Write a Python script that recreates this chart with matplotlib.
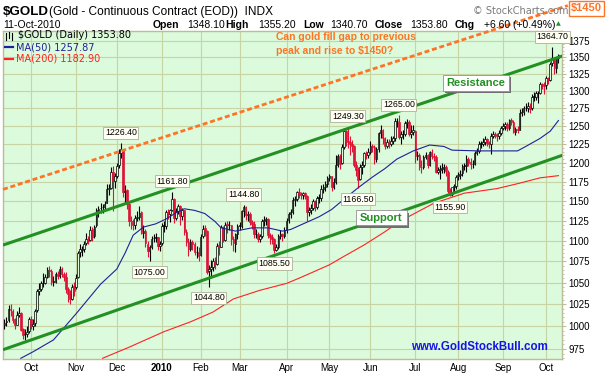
import numpy as np
import pandas as pd
import matplotlib
matplotlib.use('Agg')
import matplotlib.pyplot as plt
from matplotlib.lines import Line2D
from matplotlib.patches import Rectangle
from matplotlib.ticker import FixedLocator, FuncFormatter, NullFormatter

# trading days shown (US market holidays removed)
start_date, end_date = '2009-09-14', '2010-10-11'
holidays = ['2009-11-26', '2009-12-25', '2010-01-01', '2010-01-18', '2010-02-15',
            '2010-04-02', '2010-05-31', '2010-07-05', '2010-09-06']

# daily OHLC, one line per month
opens = [
    1002, 1005, 1007, 1020, 1017, 1008, 1002, 1013, 1015, 997, 992, 992, 995,
    1008, 1000, 1004, 1018, 1040, 1042, 1049, 1050, 1057, 1065, 1064, 1051, 1051, 1060, 1058, 1066, 1060, 1057, 1042, 1037, 1031, 1046,
    1045, 1056, 1086, 1089, 1090, 1097, 1102, 1101, 1114, 1106, 1119, 1139, 1141, 1142, 1142, 1148, 1166, 1167, 1188, 1176,
    1183, 1197, 1213, 1217, 1162, 1164, 1146, 1125, 1124, 1119, 1128, 1130, 1136, 1110, 1112, 1096, 1087, 1092, 1103, 1104, 1105, 1094,
    1097, 1119, 1118, 1136, 1133, 1139, 1152, 1128, 1137, 1143, 1131, 1138, 1111, 1099, 1090, 1098, 1096, 1086, 1086,
    1083, 1106, 1116, 1112, 1064, 1066, 1068, 1076, 1072, 1095, 1093, 1117, 1101, 1121, 1119, 1119, 1102, 1096, 1108,
    1119, 1118, 1137, 1142, 1132, 1134, 1123, 1121, 1108, 1108, 1102, 1106, 1124, 1126, 1127, 1107, 1105, 1102, 1089, 1092, 1106, 1108, 1106,
    1113, 1126, 1133, 1136, 1151, 1152, 1161, 1159, 1158, 1160, 1157, 1136, 1139, 1141, 1150, 1142, 1154, 1154, 1166, 1168, 1172,
    1180, 1182, 1168, 1175, 1197, 1209, 1200, 1221, 1243, 1230, 1228, 1225, 1222, 1197, 1190, 1178, 1195, 1197, 1213, 1211,
    1215, 1222, 1221, 1205, 1218, 1240, 1244, 1233, 1223, 1228, 1226, 1230, 1234, 1257, 1256, 1235, 1239, 1239, 1254, 1256, 1239, 1242,
    1243, 1209, 1211, 1195, 1194, 1208, 1211, 1197, 1214, 1209, 1208, 1188, 1191, 1192, 1193, 1194, 1188, 1163, 1159, 1168, 1169,
    1182, 1184, 1186, 1196, 1196, 1205, 1201, 1198, 1199, 1213, 1216, 1226, 1226, 1228, 1232, 1227, 1226, 1236, 1239, 1238, 1237, 1240,
    1248, 1250, 1253, 1247, 1258, 1256, 1242, 1246, 1245, 1268, 1270, 1275, 1276, 1278, 1275, 1292, 1292, 1297, 1297, 1310, 1309,
    1308, 1319, 1316, 1341, 1349, 1333, 1348.1,
]
highs = [
    1008, 1010, 1024, 1025, 1019, 1009, 1017, 1022, 1016, 998, 997, 1000, 1010,
    1012, 1008, 1020, 1042, 1049, 1052, 1061, 1060, 1068, 1070, 1066, 1058, 1063, 1064, 1070, 1068, 1062, 1062, 1045, 1041, 1048, 1051,
    1060, 1088, 1096, 1094, 1100, 1110, 1106, 1118, 1117, 1120, 1141, 1144, 1148, 1146, 1150, 1172, 1172, 1194, 1196, 1186,
    1200, 1218, 1226.4, 1218, 1170, 1166, 1148, 1131, 1127, 1132, 1137, 1143, 1137, 1120, 1114, 1100, 1095, 1106, 1108, 1110, 1105, 1100,
    1122, 1125, 1139, 1140, 1140, 1161.8, 1154, 1141, 1146, 1145, 1141, 1139, 1114, 1103, 1102, 1101, 1098, 1094, 1092,
    1108, 1120, 1119, 1113, 1071, 1077, 1079, 1080, 1097, 1100, 1120, 1118, 1123, 1124, 1124, 1120, 1106, 1110, 1121,
    1123, 1139, 1144.8, 1143, 1137, 1136, 1126, 1124, 1114, 1111, 1109, 1127, 1131, 1130, 1128, 1110, 1109, 1103, 1096, 1108, 1113, 1110, 1117,
    1128, 1136, 1140, 1155, 1157, 1163, 1167, 1162, 1162, 1162, 1158, 1142, 1146, 1153, 1151, 1156, 1159, 1170, 1172, 1176, 1183,
    1185, 1183, 1180, 1210, 1212, 1212, 1226, 1248, 1244, 1249.3, 1236, 1231, 1224, 1203, 1195, 1198, 1202, 1215, 1216, 1220,
    1230, 1226, 1224, 1221, 1242, 1252, 1246, 1235, 1232, 1232, 1236, 1237, 1261, 1262, 1265, 1243, 1244, 1257, 1260, 1258, 1251, 1251,
    1245, 1216, 1213, 1204, 1210, 1214, 1212, 1216, 1218, 1213, 1210, 1195, 1197, 1200, 1199, 1197, 1190, 1167, 1165, 1172, 1184,
    1188, 1190, 1198, 1200, 1210, 1208, 1206, 1204, 1216, 1220, 1229, 1230, 1233, 1236, 1233, 1230, 1240, 1243, 1242, 1240, 1244, 1250,
    1254, 1256, 1256, 1260, 1262, 1258, 1249, 1250, 1274, 1275, 1278, 1282, 1284, 1282, 1296, 1298, 1300, 1300, 1313, 1312, 1313,
    1322, 1321, 1342, 1364.7, 1349, 1350, 1355.2,
]
lows = [
    997, 1000, 1005, 1012, 1004, 997, 1001, 1010, 995, 986, 985, 988, 993,
    997, 996, 1000, 1016, 1036, 1040, 1045, 1048, 1055, 1057, 1047, 1046, 1049, 1054, 1055, 1057, 1052, 1038, 1028, 1025, 1030, 1034,
    1042, 1055, 1080, 1082, 1086, 1095, 1096, 1100, 1100, 1103, 1117, 1130, 1135, 1135, 1137, 1148, 1158, 1165, 1137, 1167,
    1180, 1193, 1207, 1155, 1148, 1140, 1118, 1115, 1113, 1115, 1125, 1126, 1108, 1104, 1093, 1080, 1075, 1090, 1098, 1098, 1089, 1088,
    1095, 1111, 1115, 1127, 1123, 1137, 1122, 1126, 1133, 1120, 1126, 1107, 1094, 1081, 1087, 1089, 1083, 1079, 1076,
    1082, 1103, 1106, 1060, 1044.8, 1058, 1064, 1066, 1071, 1083, 1092, 1099, 1100, 1110, 1113, 1095, 1088, 1086, 1102,
    1113, 1116, 1130, 1126, 1124, 1120, 1115, 1104, 1103, 1098, 1098, 1104, 1118, 1120, 1104, 1096, 1096, 1085.5, 1087, 1090, 1102, 1100, 1103,
    1110, 1122, 1128, 1133, 1144, 1150, 1154, 1152, 1152, 1153, 1124, 1131, 1134, 1138, 1137, 1140, 1148, 1150, 1160, 1163, 1168,
    1176, 1163, 1165, 1172, 1195, 1192, 1198, 1219, 1222, 1220, 1210, 1215, 1195, 1183, 1166.5, 1177, 1185, 1195, 1205, 1206,
    1212, 1214, 1199, 1201, 1214, 1233, 1226, 1218, 1220, 1220, 1222, 1226, 1230, 1249, 1232, 1226, 1232, 1236, 1248, 1236, 1233, 1238,
    1200, 1204, 1190, 1186, 1192, 1205, 1193, 1196, 1205, 1202, 1186, 1185, 1178, 1186, 1187, 1183, 1160, 1155.9, 1157, 1160, 1165,
    1177, 1178, 1182, 1190, 1188, 1196, 1192, 1193, 1197, 1210, 1213, 1220, 1222, 1224, 1222, 1220, 1212, 1233, 1233, 1230, 1232, 1238,
    1244, 1245, 1243, 1245, 1252, 1240, 1238, 1241, 1244, 1264, 1266, 1271, 1270, 1268, 1273, 1285, 1287, 1282, 1295, 1303, 1296,
    1303, 1310, 1315, 1336, 1325, 1327, 1340.7,
]
closes = [
    1004, 1006, 1020, 1018, 1007, 1002, 1013, 1015, 996, 990, 991, 994, 1008,
    1000, 1003, 1017, 1040, 1043, 1049, 1050, 1057, 1065, 1064, 1051, 1051, 1060, 1058, 1066, 1060, 1057, 1042, 1037, 1031, 1045, 1040,
    1055, 1085, 1090, 1090, 1096, 1102, 1100, 1113, 1105, 1117, 1138, 1140, 1141, 1142, 1146, 1166, 1167, 1188, 1176, 1182,
    1196, 1213, 1218, 1161, 1163, 1146, 1125, 1124, 1119, 1128, 1130, 1135, 1110, 1112, 1097, 1087, 1092, 1102, 1104, 1104, 1094, 1096,
    1118, 1118, 1136, 1133, 1138, 1152, 1128, 1137, 1143, 1131, 1138, 1111, 1099, 1090, 1098, 1096, 1086, 1086, 1081,
    1105, 1115, 1112, 1063, 1066, 1068, 1075, 1072, 1094, 1092, 1117, 1101, 1120, 1119, 1119, 1102, 1097, 1108, 1118,
    1118, 1137, 1142, 1132, 1134, 1123, 1121, 1108, 1108, 1102, 1106, 1124, 1126, 1127, 1107, 1105, 1102, 1089, 1092, 1106, 1108, 1106, 1113,
    1125, 1133, 1136, 1151, 1152, 1161, 1159, 1158, 1160, 1157, 1136, 1139, 1141, 1150, 1142, 1154, 1154, 1166, 1168, 1172, 1180,
    1182, 1168, 1175, 1197, 1209, 1199, 1221, 1243, 1229, 1228, 1225, 1222, 1197, 1190, 1177, 1195, 1197, 1213, 1211, 1215,
    1222, 1221, 1205, 1218, 1240, 1244, 1233, 1223, 1228, 1226, 1230, 1233, 1257, 1257, 1235, 1239, 1239, 1254, 1256, 1239, 1242, 1244,
    1209, 1211, 1195, 1194, 1208, 1211, 1197, 1214, 1209, 1208, 1188, 1191, 1192, 1193, 1194, 1189, 1163, 1158, 1168, 1169, 1181,
    1184, 1185, 1196, 1196, 1205, 1200, 1198, 1198, 1213, 1216, 1226, 1226, 1228, 1232, 1227, 1226, 1236, 1239, 1238, 1237, 1240, 1248,
    1250, 1253, 1247, 1258, 1256, 1242, 1246, 1245, 1268, 1270, 1275, 1276, 1278, 1274, 1292, 1292, 1297, 1297, 1310, 1309, 1307,
    1319, 1316, 1340, 1349, 1333, 1347.2, 1353.8,
]

# moving averages
ma50_dates = ['2009-09-24', '2009-10-02', '2009-10-16', '2009-11-02', '2009-11-18', '2009-12-01',
              '2009-12-07', '2009-12-11', '2009-12-18', '2009-12-29', '2010-01-06', '2010-01-13',
              '2010-01-20', '2010-01-27', '2010-02-03', '2010-02-10', '2010-02-16', '2010-02-25',
              '2010-03-09', '2010-03-19', '2010-03-30', '2010-04-06', '2010-04-15', '2010-04-26',
              '2010-05-04', '2010-05-12', '2010-05-21', '2010-06-02', '2010-06-10', '2010-06-18',
              '2010-06-30', '2010-07-13', '2010-07-22', '2010-07-28', '2010-08-16', '2010-09-13',
              '2010-09-17', '2010-09-28', '2010-10-05', '2010-10-11']
ma50_vals = [965, 972, 985, 1014, 1048, 1066, 1085, 1107, 1117, 1121, 1127, 1135, 1140, 1138,
             1134, 1124, 1116, 1112, 1116, 1116, 1112, 1114, 1122, 1130, 1139, 1152, 1167, 1181,
             1192, 1205, 1216, 1224, 1222, 1217, 1216, 1216, 1222, 1233, 1243, 1257.87]
ma200_dates = ['2009-11-19', '2009-12-09', '2010-01-05', '2010-01-25', '2010-02-09', '2010-02-24',
               '2010-03-15', '2010-04-01', '2010-04-13', '2010-05-03', '2010-05-12', '2010-05-26',
               '2010-06-10', '2010-06-22', '2010-07-15', '2010-08-05', '2010-08-27', '2010-09-14',
               '2010-09-28', '2010-10-11']
ma200_vals = [965, 977, 994, 1005, 1016, 1031, 1041, 1049, 1056, 1071, 1081, 1095, 1111, 1125,
              1147, 1160, 1166, 1173, 1180, 1182.90]

# hand drawn channel lines (two anchors each)
line_dates = ['2009-09-14', '2010-10-11']
resistance_vals = [1095.4, 1349.7]
support_vals = [974.8, 1208.2]
target_vals = [1165.5, 1425.0]

peak_dates = ['2009-12-03', '2010-01-11', '2010-03-03', '2010-05-14', '2010-06-21', '2010-10-06']
peak_vals = [1226.40, 1161.80, 1144.80, 1249.30, 1265.00, 1364.70]
trough_dates = ['2009-12-23', '2010-02-05', '2010-03-24', '2010-05-21', '2010-07-27']
trough_vals = [1075.00, 1044.80, 1085.50, 1166.50, 1155.90]

y_ticks = list(range(975, 1376, 25))
month_labels = ['Oct', 'Nov', 'Dec', '2010', 'Feb', 'Mar', 'Apr', 'May', 'Jun', 'Jul', 'Aug', 'Sep', 'Oct']

BG = '#dcfadc'
GRID = '#c8d4a4'
FRAME = '#bcbc98'
RED = '#dc1438'
GREEN = '#229022'
ORANGE = '#ff7424'
NAVY = '#20209a'
MARED = '#ff2222'
FONT = 'Liberation Sans'

W, H = 606, 373


def fx(x):
    return x / W


def fy(y):
    return 1 - y / H


dates = pd.bdate_range(start_date, end_date)
dates = dates[~dates.isin(pd.to_datetime(holidays))]
assert len(dates) == len(opens) == len(highs) == len(lows) == len(closes)


def pos(d):
    return dates.get_loc(pd.Timestamp(d))


o = np.array(opens, float)
h = np.array(highs, float)
l = np.array(lows, float)
c = np.array(closes, float)
x = np.arange(len(dates))

fig = plt.figure(figsize=(W / 100, H / 100), dpi=100)
fig.patch.set_facecolor('white')
ax = fig.add_axes([fx(3), fy(359.3), (562.3 - 3) / W, (359.3 - 31) / H])
ax.set_facecolor(BG)
ax.set_yscale('log')
ax.set_xlim(-0.7, 272.9)
ax.set_ylim(963.9, 1389.9)

# candles: black/red by close vs previous close, hollow when close > open
prev = np.r_[c[0], c[:-1]]
col = np.where(c >= prev, 'black', RED)
face = np.where(c > o, BG, col)
ax.vlines(x, l, h, colors=col, lw=0.8, zorder=3)
ax.bar(x, np.maximum(np.abs(c - o), 0.6), bottom=np.minimum(o, c), width=0.8,
       color=face, edgecolor=col, linewidth=0.5, zorder=3)

# moving averages
ax.plot([pos(d) for d in ma50_dates], ma50_vals, color=NAVY, lw=0.8, zorder=4)
ax.plot([pos(d) for d in ma200_dates], ma200_vals, color=MARED, lw=0.8, zorder=4)


def trend(vals, x0, x1):
    i0, i1 = pos(line_dates[0]), pos(line_dates[1])
    k = (np.log(vals[1]) - np.log(vals[0])) / (i1 - i0)
    xs = np.array([x0, x1])
    return xs, np.exp(np.log(vals[0]) + k * (xs - i0))


xl = ax.get_xlim()
xs, ys = trend(resistance_vals, *xl)
ax.plot(xs, ys, color=GREEN, lw=2.2, zorder=5, solid_capstyle='butt')
xs, ys = trend(support_vals, *xl)
ax.plot(xs, ys, color=GREEN, lw=2.2, zorder=5, solid_capstyle='butt')
xs, ys = trend(target_vals, xl[0], 275.6)
ax.plot(xs, ys, color=ORANGE, lw=2.0, ls=(0, (1.8, 1.0)), zorder=5, clip_on=False)

# price labels on peaks and troughs
box = dict(boxstyle='square,pad=0.18', fc='#fffff4', ec='#b0b098', lw=0.6)
for d, v in zip(peak_dates, peak_vals):
    ax.annotate(f'{v:.2f}', xy=(pos(d), v), xytext=(0, 7.6), textcoords='offset points',
                ha='center', va='center', fontsize=6.3, family=FONT, bbox=box,
                zorder=7, annotation_clip=False)
for d, v in zip(trough_dates, trough_vals):
    ax.annotate(f'{v:.2f}', xy=(pos(d), v), xytext=(0, -7.8), textcoords='offset points',
                ha='center', va='center', fontsize=6.3, family=FONT, bbox=box,
                zorder=7, annotation_clip=False)

# axes, ticks, grid
month_pos = [np.argmax((dates.year == y) & (dates.month == m))
             for y, m in [(2009, 10), (2009, 11), (2009, 12)] + [(2010, m) for m in range(1, 11)]]
ax.set_xticks(month_pos)
ax.set_xticklabels(month_labels, family=FONT, fontsize=7)
ax.get_xticklabels()[3].set_fontweight('bold')
ax.yaxis.set_major_locator(FixedLocator(y_ticks))
ax.yaxis.set_major_formatter(FuncFormatter(lambda v, p: f'{v:.0f}'))
ax.yaxis.set_minor_locator(FixedLocator([v for v in range(965, 1390, 5) if v not in y_ticks]))
ax.yaxis.set_minor_formatter(NullFormatter())
ax.yaxis.tick_right()
ax.tick_params(axis='y', which='major', length=3, width=0.8, color=FRAME, pad=1.5,
               labelsize=7)
ax.tick_params(axis='y', which='minor', length=1.5, width=0.6, color=FRAME)
ax.tick_params(axis='x', length=0, pad=3)
for t in ax.get_yticklabels():
    t.set_family(FONT)
ax.grid(True, which='major', color=GRID, lw=0.8, zorder=0)
ax.set_axisbelow(True)
for s in ax.spines.values():
    s.set_color(FRAME)
    s.set_linewidth(1.0)

# header
fig.text(fx(2.5), fy(15), r'\$GOLD', family=FONT, fontsize=9.6, weight='bold', va='baseline')
fig.text(fx(49), fy(15), '(Gold - Continuous Contract (EOD))  INDX', family=FONT, fontsize=8.6,
         va='baseline')
fig.text(fx(3), fy(27.5), '11-Oct-2010', family=FONT, fontsize=7.5, va='baseline')
chg = c[-1] - c[-2]
header = [(153, 'Open', True), (187, f'{o[-1]:.2f}', False),
          (225, 'High', True), (258, f'{h[-1]:.2f}', False),
          (303, 'Low', True), (330, f'{l[-1]:.2f}', False),
          (375, 'Close', True), (410, f'{c[-1]:.2f}', False),
          (455, 'Chg', True), (484, f'+{chg:.2f} (+{chg / c[-2] * 100:.2f}%)', False)]
for hx, txt, bold in header:
    fig.text(fx(hx), fy(27.5), txt, family=FONT, fontsize=7.5, va='baseline',
             weight='bold' if bold else 'normal')
fig.text(fx(558), fy(24), '\u25b2', fontsize=4.5, color=GREEN, ha='center', va='center')
fig.text(fx(473), fy(13.5), '\u00a9 StockCharts.com', family='DejaVu Sans', fontsize=7,
         color='#7a7a7a', va='baseline')
fig.text(fx(586.5), fy(8.5), r'\$1450', family=FONT, fontsize=8, weight='bold', color=ORANGE,
         ha='center', va='center',
         bbox=dict(boxstyle='square,pad=0.2', fc='white', ec=ORANGE, lw=1.0))

# legend
for lx, ly0, ly1 in ((6, 33, 39.5), (9, 31.5, 38), (12, 33, 40)):
    fig.add_artist(Line2D([fx(lx), fx(lx)], [fy(ly0), fy(ly1)], color='black', lw=0.8))
fig.text(fx(18), fy(35.5), r'\$GOLD (Daily) ' + f'{c[-1]:.2f}', family='DejaVu Sans',
         fontsize=7, va='center')
fig.add_artist(Line2D([fx(5), fx(13)], [fy(47), fy(47)], color=NAVY, lw=1.6))
fig.text(fx(15.5), fy(47), f'MA(50) {ma50_vals[-1]:.2f}', family='DejaVu Sans', fontsize=7,
         va='center', color=NAVY)
fig.add_artist(Line2D([fx(5), fx(13)], [fy(58.5), fy(58.5)], color=MARED, lw=1.6))
fig.text(fx(15.5), fy(58.5), f'MA(200) {ma200_vals[-1]:.2f}', family='DejaVu Sans', fontsize=7,
         va='center', color=MARED)

# commentary
fig.text(fx(276), fy(37), 'Can gold fill gap to previous', family=FONT, fontsize=7.5,
         weight='bold', color=ORANGE, va='center')
fig.text(fx(276), fy(51), r'peak and rise to \$1450?', family=FONT, fontsize=7.5,
         weight='bold', color=ORANGE, va='center')

for (bx0, by0, bx1, by1), word in [((443, 75.5, 509, 90.5), 'Resistance'),
                                  ((356, 210.5, 407, 225.5), 'Support')]:
    fig.add_artist(Rectangle((fx(bx0 + 2), fy(by1 + 2)), (bx1 - bx0) / W, (by1 - by0) / H,
                             fc='#707070', ec='none', transform=fig.transFigure, zorder=8))
    fig.add_artist(Rectangle((fx(bx0), fy(by1)), (bx1 - bx0) / W, (by1 - by0) / H,
                             fc='white', ec='#909090', lw=0.6, transform=fig.transFigure, zorder=9))
    fig.text(fx((bx0 + bx1) / 2), fy((by0 + by1) / 2), word, family=FONT, fontsize=8,
             weight='bold', color=GREEN, ha='center', va='center', zorder=10)

fig.text(fx(411), fy(350), 'www.GoldStockBull.com', family=FONT, fontsize=8.3, weight='bold',
         color='#1414e6', va='baseline')

fig.savefig('out.png', dpi=100)
